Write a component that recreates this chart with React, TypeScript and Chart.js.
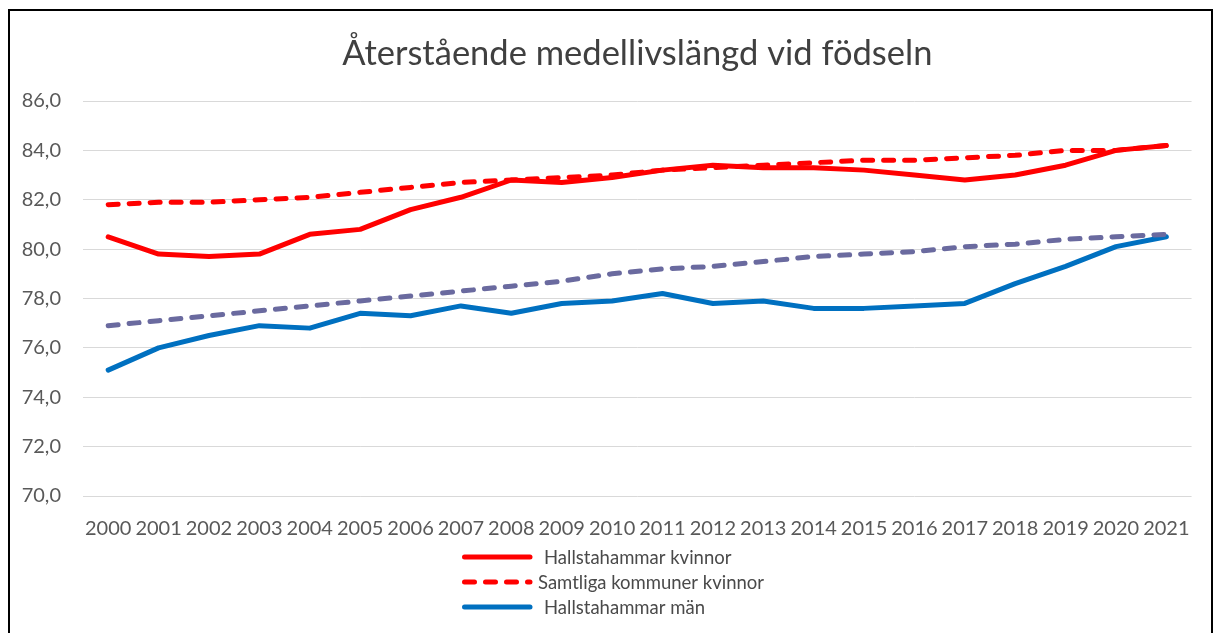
import { useEffect, useRef } from 'react';
import { Chart, registerables } from 'chart.js';

Chart.register(...registerables);

const TITLE = 'Återstående medellivslängd vid födseln';

const years = [
  '2000', '2001', '2002', '2003', '2004', '2005', '2006', '2007', '2008', '2009', '2010',
  '2011', '2012', '2013', '2014', '2015', '2016', '2017', '2018', '2019', '2020', '2021',
];

const hallstahammarKvinnor = [
  80.5, 79.8, 79.7, 79.8, 80.6, 80.8, 81.6, 82.1, 82.8, 82.7, 82.9,
  83.2, 83.4, 83.3, 83.3, 83.2, 83.0, 82.8, 83.0, 83.4, 84.0, 84.2,
];

const samtligaKvinnor = [
  81.8, 81.9, 81.9, 82.0, 82.1, 82.3, 82.5, 82.7, 82.8, 82.9, 83.0,
  83.2, 83.3, 83.4, 83.5, 83.6, 83.6, 83.7, 83.8, 84.0, 84.0, 84.2,
];

const hallstahammarMan = [
  75.1, 76.0, 76.5, 76.9, 76.8, 77.4, 77.3, 77.7, 77.4, 77.8, 77.9,
  78.2, 77.8, 77.9, 77.6, 77.6, 77.7, 77.8, 78.6, 79.3, 80.1, 80.5,
];

const samtligaMan = [
  76.9, 77.1, 77.3, 77.5, 77.7, 77.9, 78.1, 78.3, 78.5, 78.7, 79.0,
  79.2, 79.3, 79.5, 79.7, 79.8, 79.9, 80.1, 80.2, 80.4, 80.5, 80.6,
];

const Y_MIN = 70;
const Y_MAX = 86;
const Y_STEP = 2;

const legendIndices = [0, 1, 2];

const FONT = 'Lato, "Noto Sans", "DejaVu Sans", sans-serif';
const TEXT = '#595959';

const customLegend = {
  id: 'customLegend',
  afterDraw(chart: any) {
    const ctx = chart.ctx;
    const area = chart.chartArea;
    const x0 = 452;
    const y0 = area.bottom + 61;
    const gap = 25;
    ctx.save();
    legendIndices.forEach((di, i) => {
      const ds = chart.data.datasets[di];
      const y = y0 + i * gap;
      ctx.beginPath();
      ctx.strokeStyle = ds.borderColor;
      ctx.lineWidth = ds.borderWidth;
      ctx.lineCap = 'round';
      ctx.setLineDash(ds.borderDash || []);
      ctx.moveTo(x0 + 2.5, y);
      ctx.lineTo(x0 + 68, y);
      ctx.stroke();
      ctx.setLineDash([]);
      ctx.fillStyle = '#4A4A4A';
      ctx.font = `18.5px ${FONT}`;
      ctx.textAlign = 'left';
      ctx.textBaseline = 'alphabetic';
      const tx = ds.borderDash ? x0 + 76 : x0 + 82;
      ctx.fillText(ds.label, tx, y + 7);
    });
    ctx.restore();
  },
};

export default function App() {
  const canvasRef = useRef<HTMLCanvasElement | null>(null);

  useEffect(() => {
    if (!canvasRef.current) return;
    const chart = new Chart(canvasRef.current, {
      type: 'line',
      data: {
        labels: years,
        datasets: [
          {
            label: 'Hallstahammar kvinnor',
            data: hallstahammarKvinnor,
            borderColor: '#FF0000',
            backgroundColor: '#FF0000',
            borderWidth: 5,
            pointRadius: 0,
            tension: 0,
            borderCapStyle: 'round',
            borderJoinStyle: 'round',
            order: 3,
          },
          {
            label: 'Samtliga kommuner kvinnor',
            data: samtligaKvinnor,
            borderColor: '#FF0000',
            backgroundColor: '#FF0000',
            borderWidth: 5,
            borderDash: [10, 11],
            pointRadius: 0,
            tension: 0,
            borderCapStyle: 'round',
            borderJoinStyle: 'round',
            order: 1,
          },
          {
            label: 'Hallstahammar män',
            data: hallstahammarMan,
            borderColor: '#0070C0',
            backgroundColor: '#0070C0',
            borderWidth: 5,
            pointRadius: 0,
            tension: 0,
            borderCapStyle: 'round',
            borderJoinStyle: 'round',
            order: 4,
          },
          {
            label: 'Samtliga kommuner män',
            data: samtligaMan,
            borderColor: '#6A6A9F',
            backgroundColor: '#6A6A9F',
            borderWidth: 5,
            borderDash: [10, 11],
            pointRadius: 0,
            tension: 0,
            borderCapStyle: 'round',
            borderJoinStyle: 'round',
            order: 2,
          },
        ],
      },
      options: {
        animation: false,
        responsive: true,
        maintainAspectRatio: false,
        layout: { padding: { left: 0, right: 13, top: 0, bottom: 0 } },
        plugins: {
          legend: { display: false },
          tooltip: { enabled: false },
          title: {
            display: true,
            text: TITLE,
            fullSize: false,
            color: '#404040',
            font: { family: FONT, size: 34.5, weight: 'normal' },
            padding: { top: 22, bottom: 26.6 },
          },
        },
        scales: {
          x: {
            offset: true,
            grid: { display: false, drawTicks: false },
            border: { display: false },
            ticks: {
              autoSkip: false,
              maxRotation: 0,
              minRotation: 0,
              padding: 21,
              color: TEXT,
              font: { family: FONT, size: 20 },
            },
            afterFit(scale: any) {
              scale.height = 137;
            },
          },
          y: {
            min: Y_MIN,
            max: Y_MAX,
            grid: { color: '#D9D9D9', lineWidth: 1, drawTicks: false },
            border: { display: false },
            ticks: {
              stepSize: Y_STEP,
              padding: 22,
              color: TEXT,
              font: { family: FONT, size: 20 },
              callback: (v: any) => Number(v).toFixed(1).replace('.', ','),
            },
            afterFit(scale: any) {
              scale.width = 73;
            },
          },
        },
      },
      plugins: [customLegend],
    });
    return () => chart.destroy();
  }, []);

  return (
    <div
      style={{
        position: 'fixed',
        left: 8,
        top: 9,
        width: 1201,
        height: 622,
        borderTop: '2px solid #000',
        borderLeft: '2px solid #000',
        borderRight: '2px solid #000',
        background: '#fff',
        overflow: 'hidden',
      }}
    >
      <canvas ref={canvasRef} />
    </div>
  );
}
